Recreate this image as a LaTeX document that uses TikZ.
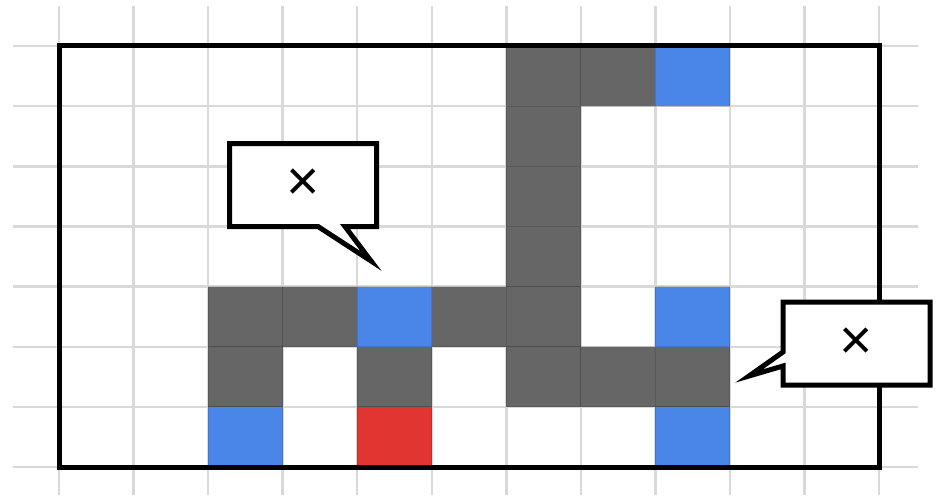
\documentclass[tikz,border=0pt]{standalone}
\usepackage{fontspec}
\newfontfamily\crossfont{Liberation Sans}
\definecolor{wallgray}{HTML}{666666}
\definecolor{goalblue}{HTML}{4A86E8}
\definecolor{startred}{HTML}{E03530}
\definecolor{gridgray}{HTML}{D9D9D9}
\begin{document}
\begin{tikzpicture}[x=1pt,y=-1pt,
  gridline/.style={draw=gridgray, line width=2.5pt},
  tile/.style={fill=#1, draw=black, draw opacity=0.12, line width=1pt},
  bubble/.style={draw=black, fill=white, line width=5pt, line join=miter},
  crossmark/.style={font=\crossfont\fontsize{57}{57}\selectfont, inner sep=0pt}]
\useasboundingbox (0,0) rectangle (936,495);
% grid
\foreach \i in {0,...,11}
  \draw[gridline] ({59+74.55*\i},6) -- ({59+74.55*\i},495);
\foreach \j in {0,...,7}
  \draw[gridline] (13,{46+60.15*\j}) -- (918,{46+60.15*\j});
% walls and marked cells
\foreach \c/\r in {6/0,7/0,6/1,6/2,6/3,2/4,3/4,5/4,6/4,2/5,4/5,6/5,7/5,8/5}
  \path[tile=wallgray] ({59+74.55*\c},{46+60.15*\r}) rectangle +(74.55,60.15);
\foreach \c/\r in {8/0,4/4,8/4,2/6,8/6}
  \path[tile=goalblue] ({59+74.55*\c},{46+60.15*\r}) rectangle +(74.55,60.15);
\path[tile=startred] ({59+74.55*4},{46+60.15*6}) rectangle +(74.55,60.15);
% frame
\draw[line width=5pt] (59,46) rectangle (879,467);
% callouts
\coordinate (tip1) at (371,261);
\coordinate (tip2) at (749,376);
\draw[bubble] (229.5,143.5) -- (376.5,143.5) -- (376.5,226.5) -- (345,226.5)
  -- (tip1) -- (318,226.5) -- (229.5,226.5) -- cycle;
\node[crossmark] (cross1) at (303,185) {×};
\draw[bubble] (783,302) -- (930,302) -- (930,385) -- (783,385) -- (783,366)
  -- (tip2) -- (783,352) -- cycle;
\node[crossmark] (cross2) at (856.5,343.5) {×};
\end{tikzpicture}
\end{document}
